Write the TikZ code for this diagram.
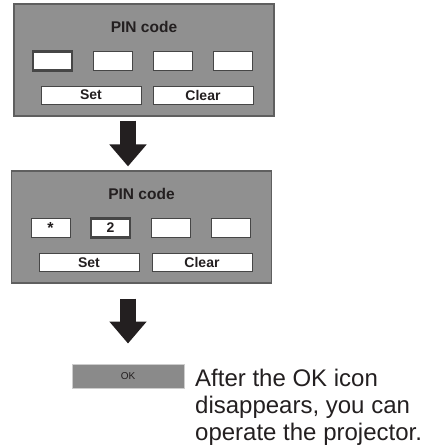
\documentclass[tikz,border=0pt]{standalone}
\usepackage{fontspec}
\setmainfont{Liberation Sans}
\usetikzlibrary{arrows.meta}
\definecolor{panelgray}{RGB}{144,144,144}
\definecolor{edgegray}{RGB}{95,95,95}
\definecolor{boxedge}{RGB}{70,70,70}
\definecolor{okgray}{RGB}{138,138,138}
\definecolor{okedge}{RGB}{205,205,205}
\definecolor{ink}{RGB}{35,31,32}

\begin{document}
\begin{tikzpicture}[x=1pt,y=-1pt,node distance=60pt,text=ink,
        panel/.style={draw=edgegray,fill=panelgray,line width=1.2pt,minimum width=260pt,minimum height=112pt,inner sep=0pt},
        title/.style={anchor=base,inner sep=0pt,font=\fontsize{15.5}{16}\selectfont\bfseries},
        pinbox/.style={draw=boxedge,fill=white,line width=0.8pt,minimum width=39pt,minimum height=19pt,inner sep=0pt,font=\fontsize{14}{14}\selectfont\bfseries},
        selbox/.style={pinbox,line width=2.4pt},
        button/.style={pinbox,minimum width=100pt,minimum height=18pt},
        okbar/.style={draw=okedge,fill=okgray,line width=1pt,minimum width=112pt,minimum height=24pt,inner sep=0pt,font=\fontsize{10}{10}\selectfont},
        note/.style={anchor=base west,align=left,inner sep=0pt,font=\fontsize{24}{27}\selectfont},
        bigarrow/.style={draw=ink,line width=16pt,-{Triangle[width=36pt,length=22pt]}}]

                \useasboundingbox (0,0) rectangle (425,448);

                \node[panel] (p1) at (144,60) {};
                \node[title] (t1) at ([yshift=-29pt]p1.north) {PIN code};
                \node[selbox] (a1) at (52.5,61) {};
                \node[pinbox] (a2) [right of = a1] {};
                \node[pinbox] (a3) [right of = a2] {};
                \node[pinbox] (a4) [right of = a3] {};
                \node[button] (set1) at (91,95) {Set};
                \node[button] (clr1) [right of = set1, node distance=112pt] {Clear};

                \node[panel] (p2) at (141.5,227) {};
                \node[title] (t2) at ([yshift=-29pt]p2.north) {PIN code};
                \node[pinbox] (b1) at (50.5,228) {\raisebox{-4pt}{\fontsize{16}{16}\selectfont *}};
                \node[selbox] (b2) [right of = b1] {2};
                \node[pinbox] (b3) [right of = b2] {};
                \node[pinbox] (b4) [right of = b3] {};
                \node[button] (set2) at (89,262.5) {Set};
                \node[button] (clr2) [right of = set2, node distance=113pt] {Clear};

                \node[okbar] (ok) at (128,376) {OK};
                \node[note] (note) at (195,440) {After the OK icon\\disappears, you can\\operate the projector.};

                \draw[bigarrow, shorten <=4pt, shorten >=4pt] (p1.south -| ok) to (p2.north -| ok);
                \draw[bigarrow, shorten <=15pt, shorten >=20pt] (p2.south -| ok) to (ok.north);
            \end{tikzpicture}
\end{document}
